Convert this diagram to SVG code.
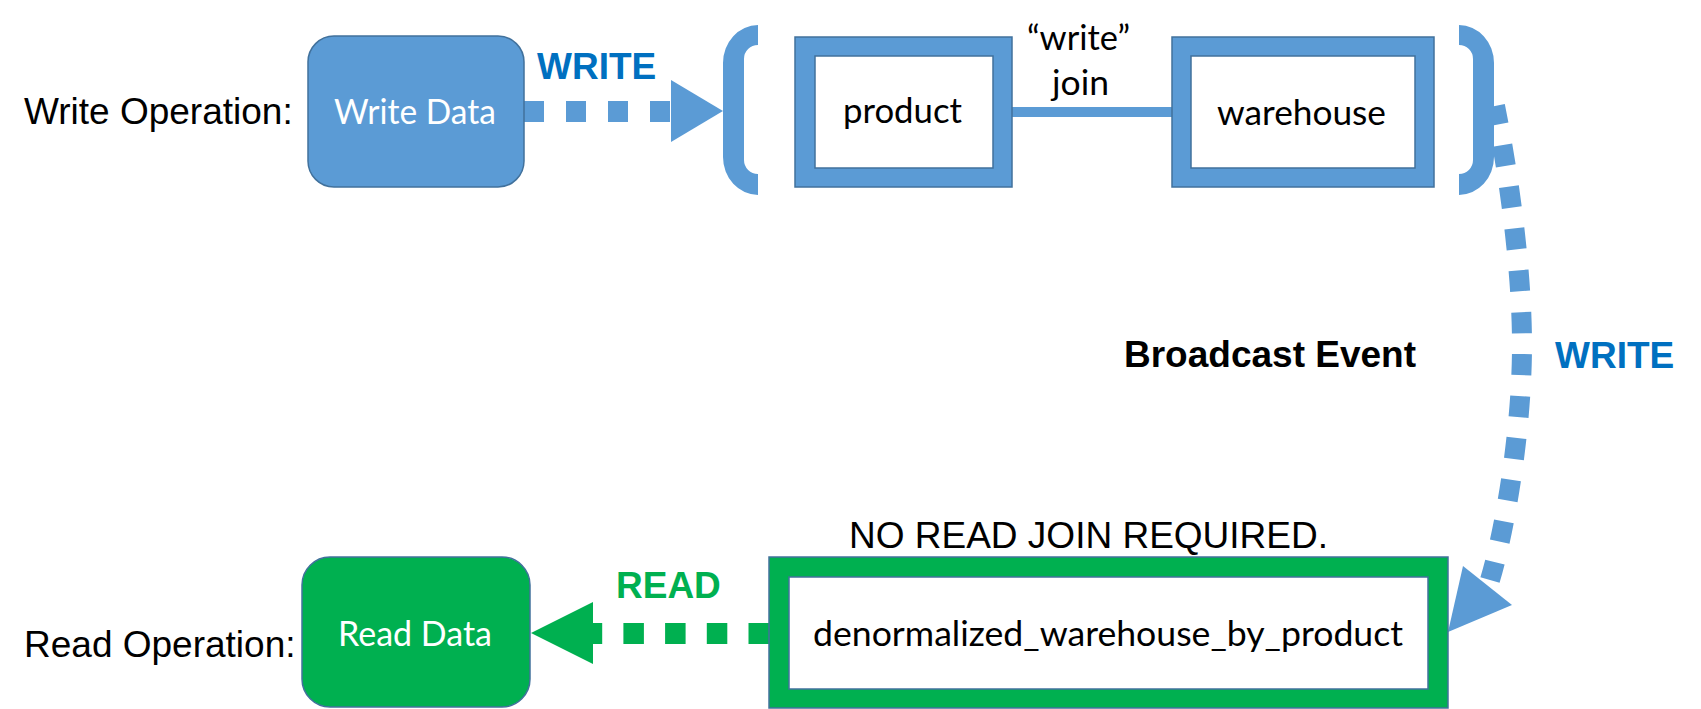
<svg xmlns="http://www.w3.org/2000/svg" width="1701" height="709" viewBox="0 0 1701 709">
  <style>
    .lbl { font-family: "Liberation Sans", Arial, sans-serif; font-size: 37px; fill: #000; }
    .bold { font-weight: bold; }
    .blueTxt { fill: #0070C0; }
    .greenTxt { fill: #00B050; }
    .box { font-family: Lato, "Open Sans", sans-serif; font-size: 34.5px; fill: #000; }
    .white { fill: #FFFFFF; }
    .blueFill { fill: #5B9BD5; stroke: #41719C; stroke-width: 1.5; }
    .greenFill { fill: #00B050; stroke: #41719C; stroke-width: 1.5; }
    .inner { fill: #FFFFFF; stroke: #41719C; stroke-width: 1.5; }
    .bracket { fill: #5B9BD5; }
    .dashBlue { fill: none; stroke: #5B9BD5; stroke-width: 21; stroke-dasharray: 20 22; }
    .dashGreen { fill: none; stroke: #00B050; stroke-width: 21; stroke-dasharray: 20.5 21.2; }
  </style>
  <rect width="1701" height="709" fill="#FFFFFF"/>

  <g id="connectors">
    <path id="write-arrow" class="dashBlue" d="M524,111.5 L671,111.5"/>
    <polygon fill="#5B9BD5" points="671,80 723,111 671,142"/>
    <path id="join-line" d="M1012,112 L1172,112" stroke="#5B9BD5" stroke-width="10" fill="none"/>
    <path id="broadcast-arrow" d="M1495,106 C1509,175 1522,270 1522,345 C1522,430 1505,530 1490,580" fill="none" stroke="#5B9BD5" stroke-width="20" stroke-dasharray="21 21" stroke-dashoffset="2"/>
    <polygon fill="#5B9BD5" points="1463,566 1512,605 1448,632"/>
    <path id="read-arrow" class="dashGreen" d="M769,633.5 L593,633.5"/>
    <polygon fill="#00B050" points="593,602 531,633 593,664"/>
  </g>

  <g id="write-operation-label">
    <text class="lbl" x="24" y="124">Write Operation:</text>
  </g>

  <g id="write-data">
    <rect class="blueFill" x="308" y="36" width="216" height="151" rx="26" ry="26"/>
    <text class="box white" x="334" y="124" textLength="162" lengthAdjust="spacingAndGlyphs">Write Data</text>
  </g>

  <g id="write-label-top">
    <text class="lbl bold blueTxt" x="537" y="79">WRITE</text>
  </g>

  <g id="left-bracket">
    <path class="bracket" d="M758,25 A35,38 0 0 0 723,63 L723,157 A35,38 0 0 0 758,195 L758,174 A14,14 0 0 1 744,160 L744,59 A14,14 0 0 1 758,45 Z"/>
  </g>

  <g id="product">
    <rect class="blueFill" x="795" y="37" width="217" height="150"/>
    <rect class="inner" x="815" y="56" width="178" height="112"/>
    <text class="box" x="843" y="123" textLength="119" lengthAdjust="spacingAndGlyphs">product</text>
  </g>

  <g id="join-label">
    <text class="box" x="1027" y="50" textLength="103" lengthAdjust="spacingAndGlyphs">“write”</text>
    <text class="box" x="1052" y="95" textLength="57" lengthAdjust="spacingAndGlyphs">join</text>
  </g>

  <g id="warehouse">
    <rect class="blueFill" x="1172" y="37" width="262" height="150"/>
    <rect class="inner" x="1191" y="56" width="224" height="112"/>
    <text class="box" x="1217" y="125" textLength="169" lengthAdjust="spacingAndGlyphs">warehouse</text>
  </g>

  <g id="right-bracket">
    <path class="bracket" d="M1459,25 A35,38 0 0 1 1494,63 L1494,157 A35,38 0 0 1 1459,195 L1459,174 A14,14 0 0 0 1473,160 L1473,59 A14,14 0 0 0 1459,45 Z"/>
  </g>

  <g id="broadcast-label">
    <text class="lbl bold" x="1124" y="367">Broadcast Event</text>
  </g>

  <g id="write-label-right">
    <text class="lbl bold blueTxt" x="1555" y="368">WRITE</text>
  </g>

  <g id="no-read-join-label">
    <text class="lbl" x="849" y="548">NO READ JOIN REQUIRED.</text>
  </g>

  <g id="denormalized-table">
    <rect class="greenFill" x="769" y="557" width="679" height="151"/>
    <rect class="inner" x="789" y="577" width="639" height="112"/>
    <text class="box" x="813" y="646" textLength="590" lengthAdjust="spacingAndGlyphs">denormalized_warehouse_by_product</text>
  </g>

  <g id="read-label">
    <text class="lbl bold greenTxt" x="616" y="598">READ</text>
  </g>

  <g id="read-data">
    <rect class="greenFill" x="302" y="557" width="228" height="150" rx="28" ry="28"/>
    <text class="box white" x="338" y="646" textLength="154" lengthAdjust="spacingAndGlyphs">Read Data</text>
  </g>

  <g id="read-operation-label">
    <text class="lbl" x="24" y="657">Read Operation:</text>
  </g>
</svg>
